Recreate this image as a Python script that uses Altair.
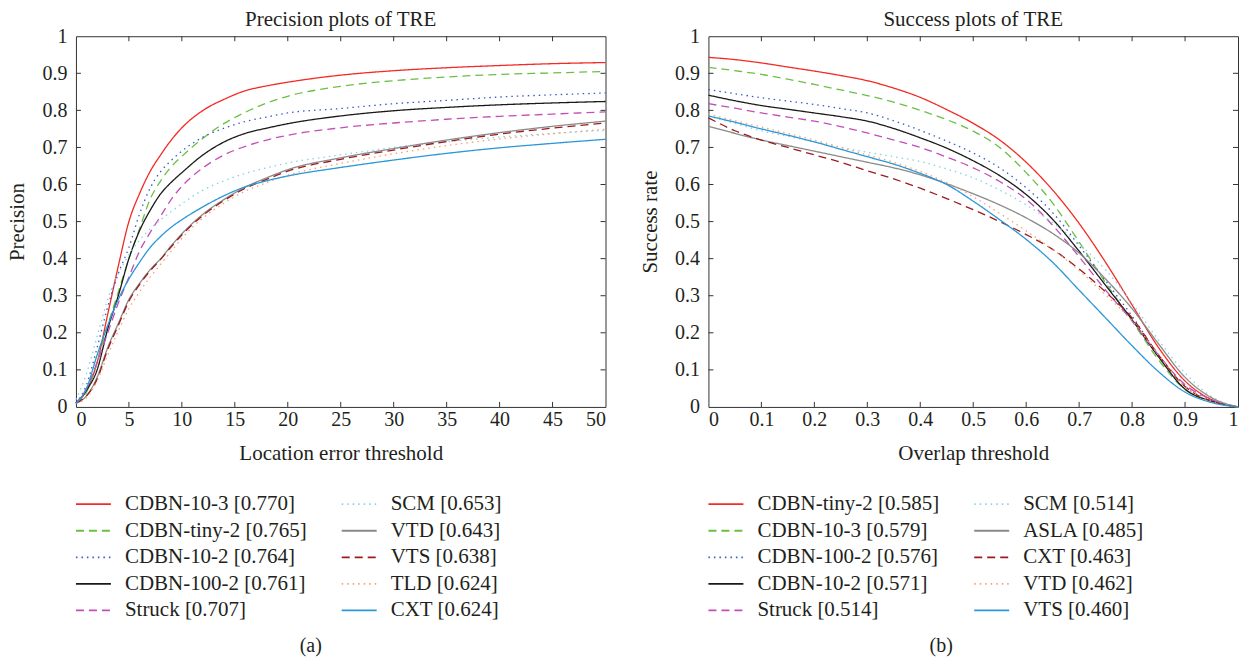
import altair as alt
import pandas as pd

FONT = "Liberation Serif"
TEXT = "#231f20"
FRAME = "#333333"

# ---------------- Panel (a): precision plots ----------------
prec_x = [0, 1, 2, 3, 4, 5, 6, 7, 8, 9, 10, 12, 14, 16, 18, 20, 25, 30, 35, 40, 45, 50]
prec_names = ["CDBN-10-3", "CDBN-tiny-2", "CDBN-10-2", "CDBN-100-2", "Struck",
              "SCM", "VTD", "VTS", "TLD", "CXT"]
prec_scores = ["0.770", "0.765", "0.764", "0.761", "0.707",
               "0.653", "0.643", "0.638", "0.624", "0.624"]
prec_cdbn_10_3 = [0.01, 0.045, 0.12, 0.25, 0.38, 0.50, 0.575, 0.635, 0.68, 0.72, 0.753, 0.80, 0.83, 0.853, 0.866, 0.876, 0.895, 0.907, 0.915, 0.921, 0.926, 0.929]
prec_cdbn_tiny_2 = [0.01, 0.04, 0.12, 0.22, 0.31, 0.40, 0.48, 0.56, 0.61, 0.648, 0.676, 0.725, 0.765, 0.795, 0.82, 0.838, 0.865, 0.88, 0.89, 0.897, 0.901, 0.905]
prec_cdbn_10_2 = [0.01, 0.06, 0.16, 0.27, 0.36, 0.43, 0.52, 0.59, 0.635, 0.665, 0.69, 0.728, 0.752, 0.77, 0.782, 0.793, 0.805, 0.818, 0.827, 0.836, 0.842, 0.847]
prec_cdbn_100_2 = [0.01, 0.045, 0.10, 0.21, 0.30, 0.40, 0.475, 0.53, 0.575, 0.606, 0.632, 0.68, 0.715, 0.738, 0.752, 0.764, 0.785, 0.799, 0.808, 0.815, 0.82, 0.824]
prec_struck = [0.01, 0.05, 0.12, 0.20, 0.28, 0.35, 0.42, 0.47, 0.515, 0.56, 0.595, 0.645, 0.68, 0.703, 0.72, 0.733, 0.753, 0.766, 0.776, 0.784, 0.79, 0.796]
prec_scm = [0.02, 0.09, 0.19, 0.29, 0.36, 0.41, 0.45, 0.48, 0.505, 0.527, 0.548, 0.585, 0.61, 0.63, 0.645, 0.658, 0.68, 0.70, 0.715, 0.728, 0.738, 0.746]
prec_vtd = [0.01, 0.03, 0.08, 0.16, 0.225, 0.29, 0.333, 0.37, 0.40, 0.435, 0.467, 0.52, 0.56, 0.593, 0.618, 0.64, 0.672, 0.697, 0.72, 0.74, 0.757, 0.771]
prec_vts = [0.01, 0.03, 0.075, 0.155, 0.22, 0.285, 0.33, 0.367, 0.398, 0.432, 0.464, 0.517, 0.557, 0.59, 0.614, 0.636, 0.668, 0.693, 0.716, 0.736, 0.752, 0.766]
prec_tld = [0.01, 0.025, 0.07, 0.14, 0.205, 0.265, 0.31, 0.35, 0.385, 0.42, 0.455, 0.51, 0.55, 0.582, 0.605, 0.625, 0.657, 0.683, 0.705, 0.723, 0.737, 0.749]
prec_cxt = [0.01, 0.05, 0.14, 0.22, 0.29, 0.345, 0.39, 0.43, 0.46, 0.485, 0.505, 0.54, 0.57, 0.594, 0.61, 0.623, 0.646, 0.666, 0.684, 0.699, 0.711, 0.722]
prec_series = [prec_cdbn_10_3, prec_cdbn_tiny_2, prec_cdbn_10_2, prec_cdbn_100_2, prec_struck,
               prec_scm, prec_vtd, prec_vts, prec_tld, prec_cxt]
prec_x_ticks = [0, 5, 10, 15, 20, 25, 30, 35, 40, 45, 50]

# ---------------- Panel (b): success plots ----------------
succ_x = [0, 0.05, 0.1, 0.15, 0.2, 0.25, 0.3, 0.35, 0.4, 0.45, 0.5,
          0.55, 0.6, 0.65, 0.7, 0.75, 0.8, 0.85, 0.9, 0.95, 1.0]
succ_names = ["CDBN-tiny-2", "CDBN-10-3", "CDBN-100-2", "CDBN-10-2", "Struck",
              "SCM", "ASLA", "CXT", "VTD", "VTS"]
succ_scores = ["0.585", "0.579", "0.576", "0.571", "0.514",
               "0.514", "0.485", "0.463", "0.462", "0.460"]
succ_cdbn_tiny_2 = [0.943, 0.937, 0.928, 0.917, 0.906, 0.894, 0.88, 0.86, 0.835, 0.802, 0.765, 0.72, 0.66, 0.585, 0.495, 0.39, 0.275, 0.16, 0.07, 0.02, 0.0]
succ_cdbn_10_3 = [0.916, 0.907, 0.897, 0.884, 0.87, 0.855, 0.84, 0.822, 0.80, 0.775, 0.744, 0.70, 0.632, 0.55, 0.445, 0.335, 0.232, 0.127, 0.047, 0.015, 0.0]
succ_cdbn_100_2 = [0.856, 0.845, 0.834, 0.825, 0.816, 0.805, 0.793, 0.772, 0.746, 0.717, 0.685, 0.645, 0.591, 0.524, 0.435, 0.34, 0.245, 0.14, 0.055, 0.017, 0.0]
succ_cdbn_10_2 = [0.841, 0.826, 0.813, 0.803, 0.793, 0.783, 0.771, 0.751, 0.726, 0.698, 0.664, 0.624, 0.573, 0.506, 0.42, 0.328, 0.235, 0.135, 0.048, 0.016, 0.0]
succ_struck = [0.818, 0.806, 0.793, 0.782, 0.771, 0.756, 0.739, 0.72, 0.70, 0.674, 0.645, 0.608, 0.56, 0.49, 0.405, 0.315, 0.232, 0.14, 0.06, 0.02, 0.0]
succ_scm = [0.785, 0.765, 0.745, 0.73, 0.715, 0.70, 0.687, 0.675, 0.662, 0.642, 0.618, 0.585, 0.545, 0.497, 0.44, 0.37, 0.28, 0.18, 0.092, 0.028, 0.0]
succ_asla = [0.757, 0.738, 0.72, 0.705, 0.69, 0.675, 0.66, 0.645, 0.626, 0.602, 0.575, 0.545, 0.51, 0.468, 0.415, 0.345, 0.265, 0.17, 0.08, 0.025, 0.0]
succ_cxt = [0.78, 0.745, 0.72, 0.70, 0.68, 0.66, 0.637, 0.615, 0.59, 0.562, 0.532, 0.50, 0.465, 0.425, 0.372, 0.31, 0.24, 0.14, 0.055, 0.015, 0.0]
succ_vtd = [0.79, 0.772, 0.755, 0.738, 0.72, 0.70, 0.68, 0.66, 0.635, 0.605, 0.567, 0.522, 0.475, 0.425, 0.368, 0.302, 0.232, 0.14, 0.055, 0.015, 0.0]
succ_vts = [0.785, 0.768, 0.75, 0.733, 0.715, 0.695, 0.675, 0.655, 0.63, 0.60, 0.555, 0.505, 0.452, 0.39, 0.315, 0.24, 0.165, 0.095, 0.04, 0.012, 0.0]
succ_series = [succ_cdbn_tiny_2, succ_cdbn_10_3, succ_cdbn_100_2, succ_cdbn_10_2, succ_struck,
               succ_scm, succ_asla, succ_cxt, succ_vtd, succ_vts]
succ_x_ticks = [0, 0.1, 0.2, 0.3, 0.4, 0.5, 0.6, 0.7, 0.8, 0.9, 1]

y_ticks = [0, 0.1, 0.2, 0.3, 0.4, 0.5, 0.6, 0.7, 0.8, 0.9, 1]

# styles (shared order: 10 series per panel)
COLORS = ["#f22b25", "#6cbf45", "#3a58c8", "#1a1a1a", "#c24fb8",
          "#86d3e3", "#8a8a8a", "#9b1b1f", "#f7a070", "#2a97d6"]
DASHES = [[1, 0], [8, 5], [1.5, 4], [1, 0], [8, 5],
          [1.5, 4], [1, 0], [8, 5], [1.5, 4], [1, 0]]

W, H = 530, 371
TICK = 5
LEG_H = 133
LEG_COL = [0, 266]
LEG_SAMPLE = 35
LEG_TEXT = 49


def scales(names):
    return (alt.Scale(domain=names, range=COLORS), alt.Scale(domain=names, range=DASHES))


def plot_panel(names, xs, series, x_ticks, x_title, y_title, title):
    rows = []
    for name, vals in zip(names, series):
        for xv, yv in zip(xs, vals):
            rows.append({"series": name, "x": xv, "y": yv})
    df = pd.DataFrame(rows)
    cscale, dscale = scales(names)
    xscale = alt.Scale(domain=[x_ticks[0], x_ticks[-1]], nice=False, zero=False)
    yscale = alt.Scale(domain=[0, 1], nice=False)
    xaxis = alt.Axis(values=x_ticks, format="~g", labelOverlap=False)
    yaxis = alt.Axis(values=y_ticks, format="~g", labelOverlap=False)

    lines = alt.Chart(df).mark_line(strokeWidth=1.3, interpolate="monotone").encode(
        x=alt.X("x:Q", scale=xscale, title=x_title, axis=xaxis),
        y=alt.Y("y:Q", scale=yscale, title=y_title, axis=yaxis),
        color=alt.Color("series:N", scale=cscale, legend=None),
        strokeDash=alt.StrokeDash("series:N", scale=dscale, legend=None),
    )

    xt = pd.DataFrame({"x": x_ticks[1:-1]})
    yt = pd.DataFrame({"y": y_ticks[1:-1]})
    tick_style = dict(color=FRAME, strokeWidth=1)
    t_bottom = alt.Chart(xt).mark_rule(**tick_style).encode(
        x=alt.X("x:Q", title=x_title, axis=xaxis), y=alt.value(H), y2=alt.value(H - TICK))
    t_top = alt.Chart(xt).mark_rule(**tick_style).encode(
        x=alt.X("x:Q", title=x_title, axis=xaxis), y=alt.value(0), y2=alt.value(TICK))
    t_left = alt.Chart(yt).mark_rule(**tick_style).encode(
        y=alt.Y("y:Q", title=y_title, axis=yaxis), x=alt.value(0), x2=alt.value(TICK))
    t_right = alt.Chart(yt).mark_rule(**tick_style).encode(
        y=alt.Y("y:Q", title=y_title, axis=yaxis), x=alt.value(W), x2=alt.value(W - TICK))

    return alt.layer(lines, t_bottom, t_top, t_left, t_right).properties(
        width=W, height=H,
        title=alt.TitleParams(title, font=FONT, fontSize=21, fontWeight="normal",
                              color=TEXT, offset=-21, baseline="alphabetic",
                              frame="group"),
        view=alt.ViewBackground(stroke=FRAME, strokeWidth=1),
    )


def legend_panel(names, scores, tag, tag_dx):
    cscale, dscale = scales(names)
    lrows = []
    for i, (name, sc) in enumerate(zip(names, scores)):
        c = i // 5
        lrows.append({"series": name, "label": f"{name} [{sc}]", "row": i % 5,
                      "x0": LEG_COL[c], "x1": LEG_COL[c] + LEG_SAMPLE,
                      "xt": LEG_COL[c] + LEG_TEXT})
    ldf = pd.DataFrame(lrows)
    lx = alt.Scale(domain=[0, W], nice=False, zero=False)
    ly = alt.Scale(domain=[0, 1, 2, 3, 4])
    samples = alt.Chart(ldf).mark_rule(strokeWidth=1.8).encode(
        x=alt.X("x0:Q", scale=lx, axis=None), x2="x1:Q",
        y=alt.Y("row:O", scale=ly, axis=None),
        color=alt.Color("series:N", scale=cscale, legend=None),
        strokeDash=alt.StrokeDash("series:N", scale=dscale, legend=None),
    )
    labels = alt.Chart(ldf).mark_text(align="left", baseline="middle", font=FONT,
                                      fontSize=21, color=TEXT).encode(
        x=alt.X("xt:Q", scale=lx, axis=None),
        y=alt.Y("row:O", scale=ly, axis=None),
        text="label:N",
    )
    return alt.layer(samples, labels).properties(
        width=W, height=LEG_H,
        title=alt.TitleParams(tag, orient="bottom", anchor="middle", dx=tag_dx,
                              font=FONT, fontSize=20, fontWeight="normal",
                              color=TEXT, offset=12),
        view=alt.ViewBackground(stroke="transparent"),
    )


pa = plot_panel(prec_names, prec_x, prec_series, prec_x_ticks,
                "Location error threshold", "Precision", "Precision plots of TRE")
pb = plot_panel(succ_names, succ_x, succ_series, succ_x_ticks,
                "Overlap threshold", "Success rate", "Success plots of TRE")
la = legend_panel(prec_names, prec_scores, "(a)", -30)
lb = legend_panel(succ_names, succ_scores, "(b)", -32)

chart = alt.concat(pa, pb, la, lb, columns=2, bounds="flush",
                   spacing={"row": 84, "column": 103}).resolve_scale(
    color="independent", strokeDash="independent"
).properties(
    padding={"left": 6, "top": 8, "right": 5, "bottom": 0}
).configure(background="white").configure_axis(
    domain=False, ticks=False, grid=False, labelOverlap=False,
    labelFont=FONT, labelFontSize=20, labelColor=TEXT,
    titleFont=FONT, titleFontSize=21, titleFontWeight="normal", titleColor=TEXT,
).configure_axisX(titlePadding=13, labelPadding=3).configure_axisY(titlePadding=14, labelPadding=9)

chart.save("out.html", embed_options={"renderer": "svg", "actions": False})
